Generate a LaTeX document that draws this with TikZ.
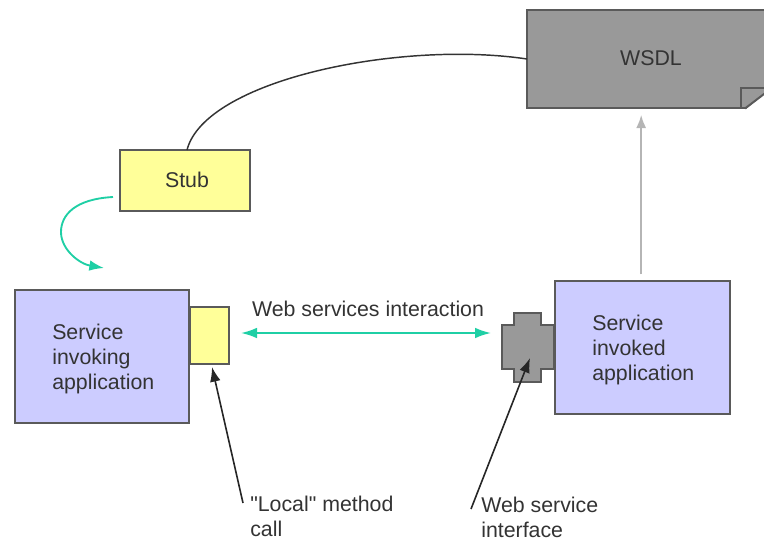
\documentclass[tikz,border=0pt]{standalone}
\usepackage{fontspec}
\newfontfamily\labelfont{Liberation Sans}
\usetikzlibrary{arrows.meta}
\definecolor{appblue}{HTML}{CCCCFF}
\definecolor{stubyellow}{HTML}{FFFF99}
\definecolor{wsdlgray}{HTML}{999999}
\definecolor{edgegray}{HTML}{5A5A5A}
\definecolor{flowteal}{HTML}{1FCFA5}
\definecolor{uplinegray}{HTML}{B5B5B5}
\begin{document}
\begin{tikzpicture}[x=0.75pt,y=-0.75pt]

    \tikzset{boxstyle/.style={draw=edgegray,line width=1.5pt,shape=rectangle,inner sep=0pt,outer sep=0pt},
             labelstyle/.style={inner sep=0pt,align=left,text=black!80,font=\labelfont\fontsize{16}{18.8}\selectfont}}
    \useasboundingbox (0,0) rectangle (764,540);

    \node[boxstyle,fill=wsdlgray,minimum width=186pt,minimum height=73.5pt,labelstyle] (wsdl) at (651,59) {\raisebox{1.5pt}{WSDL}};
    \node[boxstyle,fill=stubyellow,minimum width=97.5pt,minimum height=45.75pt,labelstyle] (stub) at (185,180.5) {\hspace{3pt}\raisebox{0.7pt}{Stub}};
    \node[boxstyle,fill=appblue,minimum width=130.5pt,minimum height=99.75pt] (invoking) at (102,356.5) {};
    \node[boxstyle,fill=stubyellow,minimum width=29.25pt,minimum height=42.75pt] (local) at (209.5,335) {};
    \node[boxstyle,fill=appblue,minimum width=131.25pt,minimum height=99.75pt] (invoked) at (642.5,347.5) {};
    \draw[edgegray,line width=1.5pt,fill=wsdlgray] (514,313) -- (541,313) -- (541,325) -- (554,325) -- (554,369)
        -- (541,369) -- (541,382) -- (514,382) -- (514,369) -- (502,369) -- (502,325) -- (514,325) -- cycle;
    % corner of the sheet
    \fill[white] (745,110) -- (766,92.5) -- (775,92.5) -- (775,114) -- (745,114) -- cycle;
    \draw[edgegray,line width=1.5pt] (741,108) -- (741,88) -- (770,88);
    \draw[edgegray,line width=1.5pt] (745,108.5) -- (766,92.5);

    \node[labelstyle,anchor=west] (invokingtext) at (52,359) {Service\\invoking\\application};
    \node[labelstyle,anchor=west] (invokedtext) at (592,350) {Service\\invoked\\application};
    \node[labelstyle] (interaction) at (368,308.5) {Web services interaction};
    \node[labelstyle,anchor=north west] (localtext) at (250,495.5) {"Local" method\\call};
    \node[labelstyle,anchor=north west] (ifacetext) at (481,496.5) {Web service\\interface};

    \coordinate (c1) at (113,197);
    \coordinate (c2) at (104,268);
    \coordinate (c3) at (241,333);
    \coordinate (c4) at (491,333);
    \coordinate (c5) at (530,358);
    \coordinate (c6) at (471,509);
    \coordinate (c7) at (212,367);
    \coordinate (c8) at (243,503);

    \draw[black!80,line width=1.1pt] ([xshift=1.5pt]stub.north) .. controls (205,80) and (400,40) .. (wsdl.west);
    \draw[uplinegray,line width=1.6pt,-{Latex[length=10pt,width=7.5pt]},shorten <=5pt,shorten >=5pt] ([xshift=-1pt]invoked.north) -- ([xshift=-1pt]invoked.north |- wsdl.south);
    \begin{scope}[every path/.style={flowteal,line width=1.4pt}]
        \draw[-{Latex[length=11pt,width=8pt]}] (c1) .. controls (75,199) and (61,215) .. (61,232) .. controls (61,250) and (80,264) .. (c2);
        \draw[{Latex[length=12pt,width=8pt]}-{Latex[length=12pt,width=8pt]}] (c3) -- (c4);
    \end{scope}
    \begin{scope}[every path/.style={black!85,line width=1.2pt,-{Latex[length=11pt,width=8pt]}}]
        \draw (c8) -- (c7);
        \draw (c6) -- (c5);
    \end{scope}
\end{tikzpicture}
\end{document}
